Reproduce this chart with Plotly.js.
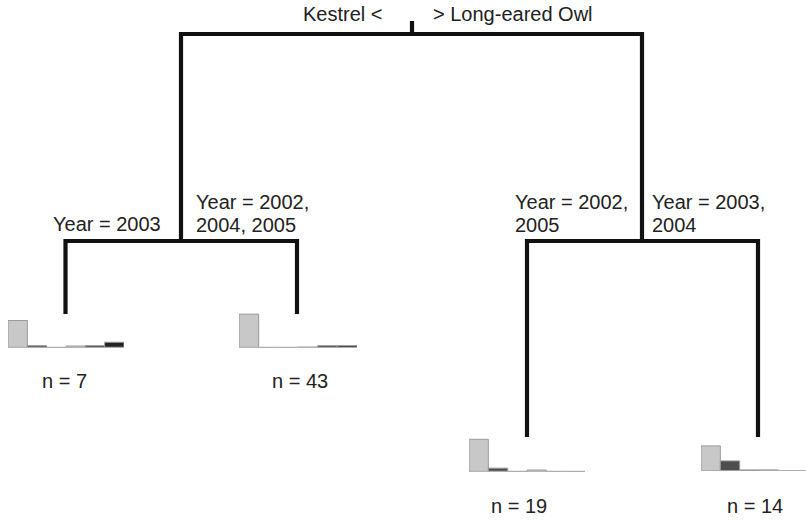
<!DOCTYPE html>
<html>
<head>
<meta charset="utf-8">
<script src="https://cdn.plot.ly/plotly-3.0.1.min.js"></script>
<style>html,body{margin:0;padding:0;background:#fff;}#chart{width:806px;height:520px;}</style>
</head>
<body>
<div id="chart"></div>
<script>
// ---- data ----
const splitRoot = ['Kestrel <', '> Long-eared Owl'];
const splitLeft = ['Year = 2003', ['Year = 2002,', '2004, 2005']];
const splitRight = [['Year = 2002,', '2005'], ['Year = 2003,', '2004']];
const leafN = [7, 43, 19, 14];
const speciesIdx = [0, 1, 2, 3, 4, 5];
const leaf1 = [0.72, 0.05, 0.00, 0.04, 0.05, 0.14];
const leaf2 = [0.89, 0.00, 0.00, 0.01, 0.05, 0.05];
const leaf3 = [0.86, 0.09, 0.00, 0.04, 0.00, 0.00];
const leaf4 = [0.67, 0.27, 0.03, 0.03, 0.00, 0.00];
const leaves = [leaf1, leaf2, leaf3, leaf4];

// ---- styling / layout geometry (pixels) ----
const W = 806, H = 520;
const barColors = ['#c8c8c8', '#4d4d4d', '#151515', '#c4c4c4', '#383838', '#222222'];
const FONT = {family: 'Liberation Sans, Arial, sans-serif', size: 20, color: '#222'};
const nodes = {
  root: {x: 412, y: 34, top: 21},
  L: {x: 181, y: 241}, R: {x: 642, y: 241},
  L1: {x: 65.5, y: 314}, L2: {x: 297, y: 314},
  R1: {x: 527, y: 437}, R2: {x: 758, y: 437}
};
const leafBox = [
  {x0: 8, x1: 124, base: 347.5, nx: 64, ny: 381},
  {x0: 239, x1: 357, base: 347.5, nx: 300, ny: 381},
  {x0: 469, x1: 585, base: 471.5, nx: 519, ny: 506},
  {x0: 701, x1: 817, base: 471, nx: 755, ny: 506}
];
const unitPx = 37.5;
const LINE_GAP = 23;

const traces = [];
function seg(xs, ys) {
  traces.push({type: 'scatter', mode: 'lines', x: xs, y: ys, xaxis: 'x', yaxis: 'y',
    line: {color: '#111', width: 4.2}, hoverinfo: 'skip', showlegend: false});
}
const n = nodes;
seg([n.root.x, n.root.x], [n.root.top, n.root.y]);
seg([n.L.x, n.L.x, n.R.x, n.R.x], [n.L.y, n.root.y, n.root.y, n.R.y]);
seg([n.L1.x, n.L1.x, n.L2.x, n.L2.x], [n.L1.y, n.L.y, n.L.y, n.L2.y]);
seg([n.R1.x, n.R1.x, n.R2.x, n.R2.x], [n.R1.y, n.R.y, n.R.y, n.R2.y]);

const layout = {
  width: W, height: H, margin: {l: 0, r: 0, t: 0, b: 0},
  paper_bgcolor: '#fff', plot_bgcolor: 'rgba(0,0,0,0)',
  showlegend: false, bargap: 0,
  xaxis: {range: [0, W], domain: [0, 1], visible: false, fixedrange: true},
  yaxis: {range: [H, 0], domain: [0, 1], visible: false, fixedrange: true},
  annotations: []
};

leaves.forEach((vals, i) => {
  const b = leafBox[i];
  const k = i + 2;
  const barW = (b.x1 - b.x0) / speciesIdx.length;
  const xr = Math.min(b.x1, W);
  const rangeHi = -0.5 + (xr - b.x0) / barW;
  layout['xaxis' + k] = {domain: [b.x0 / W, xr / W], range: [-0.5, rangeHi], visible: false, fixedrange: true, anchor: 'y' + k};
  layout['yaxis' + k] = {domain: [(H - b.base) / H, (H - b.base + unitPx) / H], range: [0, 1], visible: false, fixedrange: true, anchor: 'x' + k};
  traces.push({type: 'scatter', mode: 'lines', x: [-0.5, 5.5], y: [0, 0], xaxis: 'x' + k, yaxis: 'y' + k,
    line: {color: '#aaa', width: 1.5}, hoverinfo: 'skip', showlegend: false});
  traces.push({type: 'bar', x: speciesIdx, y: vals, xaxis: 'x' + k, yaxis: 'y' + k,
    marker: {color: barColors, line: {color: '#9a9a9a', width: 1}}, hoverinfo: 'skip', showlegend: false});
  layout.annotations.push({xref: 'x', yref: 'y', x: b.nx, y: b.ny, text: 'n = ' + leafN[i],
    showarrow: false, xanchor: 'center', yanchor: 'middle', font: FONT});
});

function ann(text, x, y, xanchor) {
  const lines = Array.isArray(text) ? text : [text];
  lines.forEach((t, j) => {
    layout.annotations.push({xref: 'x', yref: 'y', x: x, y: y + j * LINE_GAP, text: t, showarrow: false,
      xanchor: xanchor, yanchor: 'middle', align: 'left', font: FONT});
  });
}
ann(splitRoot[0], 384, 14, 'right');
ann(splitRoot[1], 431, 14, 'left');
ann(splitLeft[0], 163, 224, 'right');
ann(splitLeft[1], 194, 201.5, 'left');
ann(splitRight[0], 513, 201.5, 'left');
ann(splitRight[1], 650, 201.5, 'left');

Plotly.newPlot('chart', traces, layout, {staticPlot: true, displayModeBar: false});
</script>
</body>
</html>
